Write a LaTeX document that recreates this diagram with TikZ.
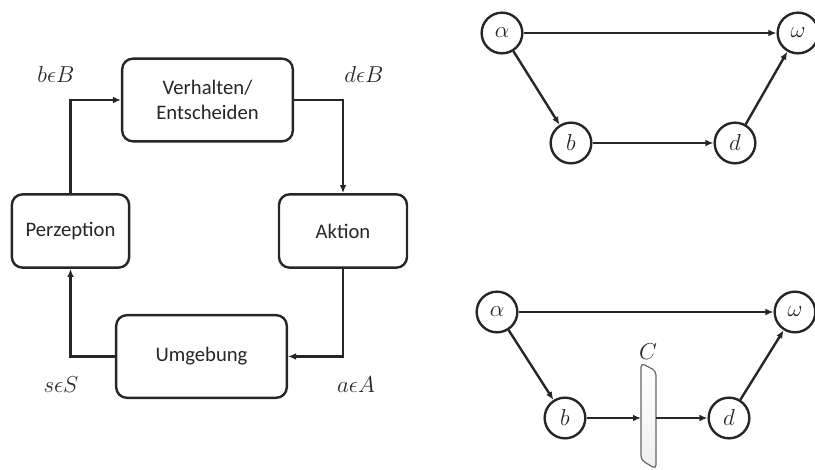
\documentclass[tikz,border=0pt]{standalone}
\usepackage{fontspec}
\setmainfont{Carlito}
\usetikzlibrary{arrows.meta}
\definecolor{ink}{HTML}{262626}

\begin{document}
\begin{tikzpicture}[x=0.75pt,y=-0.75pt,line width=1.8pt,draw=ink,text=ink,
    >={Latex[length=6pt,width=5pt]},
    box/.style={draw,rounded corners=8pt,align=center,
      font=\fontsize{15.5}{19}\selectfont},
    state/.style={draw,circle,minimum size=30.5pt,inner sep=0pt,
      font=\fontsize{17}{20}\selectfont},
    lab/.style={font=\fontsize{17}{20}\selectfont}]
\useasboundingbox (0,0) rectangle (815,470);
% loop
\node[box,minimum width=128pt,minimum height=62pt] (verh) at (207.5,100) {Verhalten/\\Entscheiden};
\node[box,minimum width=88pt,minimum height=55pt] (perz) at (70.5,231) {Perzeption};
\node[box,minimum width=96pt,minimum height=55pt] (akt) at (343,231) {Aktion};
\node[box,minimum width=128pt,minimum height=62pt] (umg) at (201.5,356.5) {Umgebung};
\draw[->] (perz.north) |- (verh.west);
\draw[->] (verh.east) -| (akt.north);
\draw[->] (akt.south) |- (umg.east);
\draw[->] (umg.west) -| (perz.south);
\node[lab] at (56,75) {$b\epsilon B$};
\node[lab] at (364,75) {$d\epsilon B$};
\node[lab] at (61,385) {$s\epsilon S$};
\node[lab] at (356,385) {$a\epsilon A$};
% upper graph
\node[state] (a1) at (502,33) {$\alpha$};
\node[state] (w1) at (798,33) {$\omega$};
\node[state] (b1) at (571,143) {$b$};
\node[state] (d1) at (735,143) {$d$};
\draw[->] (a1) -- (w1);
\draw[->] (a1) -- (b1);
\draw[->] (b1) -- (d1);
\draw[->] (d1) -- (w1);
% lower graph
\node[state] (a2) at (497,312) {$\alpha$};
\node[state] (w2) at (795,312) {$\omega$};
\node[state] (b2) at (565,418) {$b$};
\node[state] (d2) at (729,418) {$d$};
\shade[top color=white,bottom color=gray!12,draw=gray!80!black,line width=0.9pt,rounded corners=3pt]
  (641,363) -- (656,371) -- (656,469) -- (641,460) -- cycle;
\node[lab] (c) at (648,352) {$C$};
\coordinate (cin) at (641,418);
\coordinate (cout) at (656,418);
\draw[->] (a2) -- (w2);
\draw[->] (a2) -- (b2);
\draw[->] (b2) -- (cin);
\draw[->] (cout) -- (d2);
\draw[->] (d2) -- (w2);
\end{tikzpicture}
\end{document}
